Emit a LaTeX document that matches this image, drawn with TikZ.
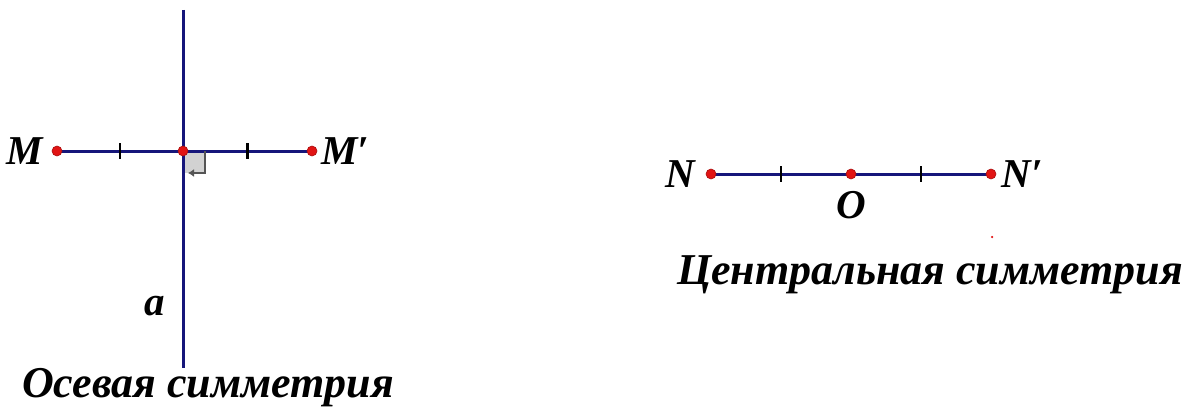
\documentclass[tikz,border=0pt]{standalone}
\usepackage{fontspec}
\setmainfont{Liberation Serif}
\usetikzlibrary{arrows.meta, positioning, calc}
\definecolor{lineblue}{RGB}{22,22,122}
\definecolor{ptred}{RGB}{225,20,20}
\definecolor{markgray}{RGB}{85,85,85}
\newcommand{\prm}{\char"2032}

\begin{document}
\begin{tikzpicture}[x=1pt, y=-1pt,
  seg/.style={draw=lineblue, line width=3pt},
  tickmark/.style={draw=black, line width=2.8pt},
  pt/.style={circle, fill=ptred, draw=ptred!75!black, line width=0.6pt, inner sep=0pt, minimum size=10pt},
  lbl/.style={font=\fontsize{41}{41}\selectfont\bfseries\itshape, inner sep=0pt},
  capt/.style={font=\fontsize{44}{44}\selectfont\bfseries\itshape, inner sep=0pt}]
  \useasboundingbox (0,0) rectangle (1196,412);
  % axial symmetry
  \coordinate (M) at (57,151);
  \coordinate (H) at (183,151);
  \coordinate (Mp) at (312,151);
  \coordinate (atop) at (183,10);
  \coordinate (abot) at (183,368);
  \fill[gray!35] (H) rectangle ($(H)+(22,22)$);
  \draw[seg] (atop) -- (abot);
  \draw[seg] (M) -- (Mp);
  \draw[markgray, line width=2.5pt, -{Latex[length=6pt, width=8pt]}]
    ($(H)+(22,0)$) -- ++(0,22) -- ++(-17,0);
  % central symmetry
  \coordinate (N) at (711,174);
  \coordinate (O) at (851,174);
  \coordinate (Np) at (991,174);
  \draw[seg] (N) -- (Np);
  \foreach \a/\b in {M/H, H/Mp, N/O, O/Np}
    \draw[tickmark] ($(\a)!0.5!(\b)+(0,-8)$) -- ++(0,16);
  \foreach \p in {M, H, Mp, N, O, Np}
    \node[pt] (\p dot) at (\p) {};
  \node[circle, fill=ptred, inner sep=0pt, minimum size=2.5pt] (stray) at (992,237) {};
  % labels
  \node[lbl, left=9pt of Mdot] (Mlbl) {M};
  \node[lbl, right=4pt of Mpdot] (Mplbl) {M\prm};
  \node[lbl, anchor=base] (albl) at (155,315) {a};
  \node[lbl, left=10pt of Ndot] (Nlbl) {N};
  \node[lbl, right=5pt of Npdot] (Nplbl) {N\prm};
  \node[lbl, below=12pt of Odot] (Olbl) {O};
  \node[capt, anchor=base west] (axcap) at (22,397) {Осевая симметрия};
  \node[capt, anchor=base west] (cencap) at (677,284) {Центральная симметрия};
\end{tikzpicture}
\end{document}
